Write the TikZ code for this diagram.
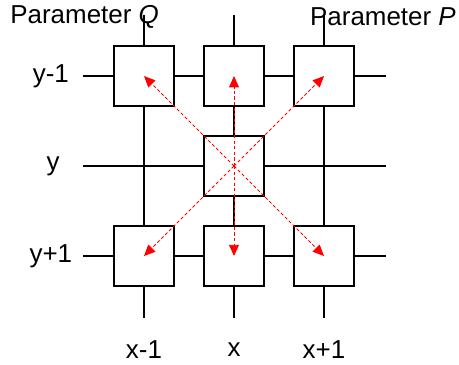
\documentclass[tikz,border=0pt]{standalone}
\usepackage{fontspec}
\setmainfont{Liberation Sans}
\usetikzlibrary{arrows.meta,positioning,calc}
\definecolor{ARROW-RED}{RGB}{255, 0, 0}

\begin{document}
\begin{tikzpicture}[
    cell/.style={draw=black, fill=white, line width=0.8pt, minimum size=1.333cm, inner sep=0pt},
    wire/.style={black, line width=0.8pt},
    move/.style={ARROW-RED, line width=0.6pt, dash pattern=on 2pt off 1.5pt, -{Triangle[length=2.5mm, width=2.2mm]}},
    lbl/.style={font=\fontsize{16.4}{19}\selectfont, inner sep=0pt}
  ]
  \useasboundingbox (0,0) rectangle (10.2,8.09);

  % Grid wires (behind the cells)
  \foreach \cx [count=\i] in {3.2,5.2,7.2} {
    \coordinate (top\i) at (\cx,7.75);
    \coordinate (bot\i) at (\cx,1.02);
    \draw[wire] (top\i) -- (bot\i);
  }
  \foreach \ry [count=\j] in {6.4,4.4,2.4} {
    \coordinate (lft\j) at (1.84,\ry);
    \coordinate (rgt\j) at (8.57,\ry);
    \draw[wire] (lft\j) -- (rgt\j);
  }

  % Cells
  \node[cell] (nw) at (3.2,6.4) {};
  \node[cell] (n)  at (5.2,6.4) {};
  \node[cell] (ne) at (7.2,6.4) {};
  \node[cell] (c)  at (5.2,4.4) {};
  \node[cell] (sw) at (3.2,2.4) {};
  \node[cell] (s)  at (5.2,2.4) {};
  \node[cell] (se) at (7.2,2.4) {};

  % Moves from the centre cell
  \foreach \target in {nw,n,ne,sw,s,se}
    \draw[move] (c.center) -- (\target.center);

  % Labels
  \node[lbl] (parq) at (1.88,7.72) {Parameter \textit{Q}};
  \node[lbl] (parp) at (8.51,7.72) {Parameter \textit{P}};
  \node[lbl] (rowa) at (1.13,6.4) {y-1};
  \node[lbl] (rowb) at (1.18,4.4) {y};
  \node[lbl] (rowc) at (1.13,2.4) {y+1};
  \node[lbl] (cola) at (3.2,0.33) {x-1};
  \node[lbl] (colb) at (5.2,0.33) {x};
  \node[lbl] (colc) at (7.2,0.33) {x+1};
\end{tikzpicture}
\end{document}
